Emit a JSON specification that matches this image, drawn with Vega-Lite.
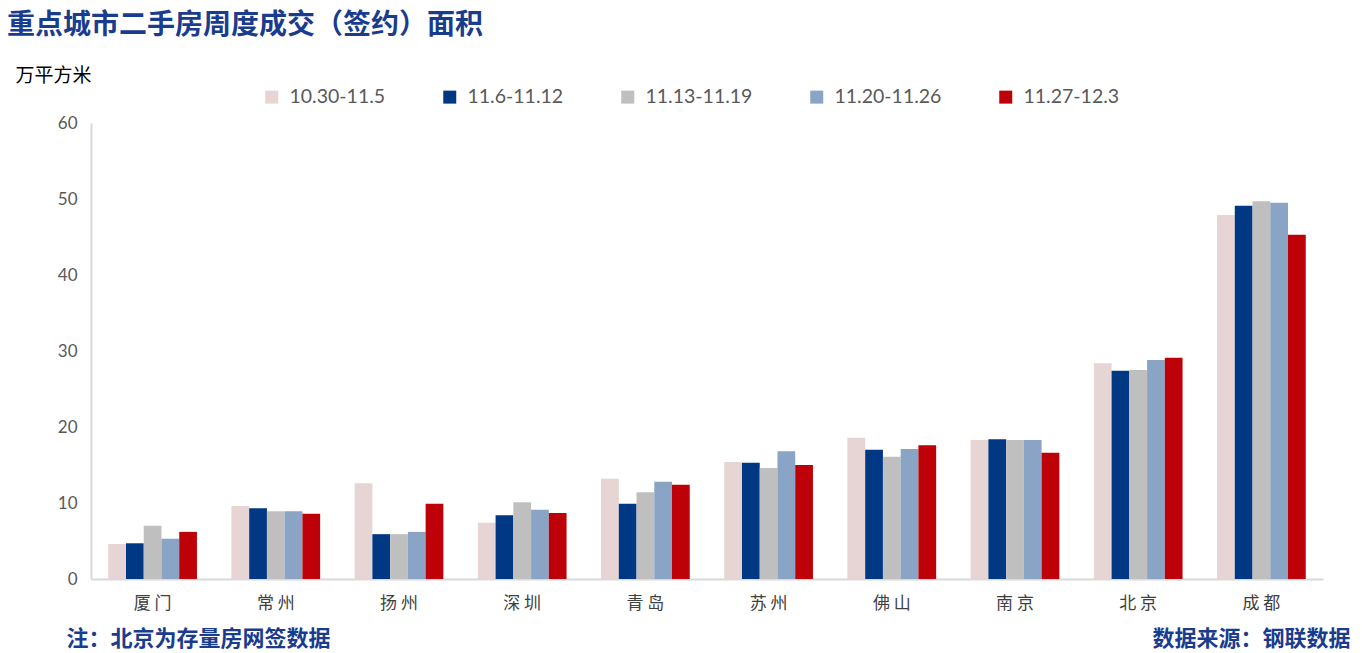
{
  "$schema": "https://vega.github.io/schema/vega-lite/v6.json",
  "width": 1232,
  "height": 456,
  "autosize": "none",
  "padding": {"left": 91, "top": 123, "right": 41, "bottom": 74},
  "background": "white",
  "title": {
    "text": "重点城市二手房周度成交（签约）面积",
    "anchor": "start",
    "frame": "group",
    "font": "Noto Sans CJK SC",
    "fontSize": 28,
    "fontWeight": "bold",
    "color": "#1A3C8C",
    "dx": -84,
    "offset": 0,
    "dy": -26
  },
  "config": {
    "view": {"stroke": null},
    "axis": {"grid": false}
  },
  "data": {
    "values": [
      {"city": "厦门", "week": "10.30-11.5", "value": 4.6},
      {"city": "厦门", "week": "11.6-11.12", "value": 4.7},
      {"city": "厦门", "week": "11.13-11.19", "value": 7.0},
      {"city": "厦门", "week": "11.20-11.26", "value": 5.3},
      {"city": "厦门", "week": "11.27-12.3", "value": 6.2},
      {"city": "常州", "week": "10.30-11.5", "value": 9.6},
      {"city": "常州", "week": "11.6-11.12", "value": 9.3},
      {"city": "常州", "week": "11.13-11.19", "value": 8.9},
      {"city": "常州", "week": "11.20-11.26", "value": 8.9},
      {"city": "常州", "week": "11.27-12.3", "value": 8.6},
      {"city": "扬州", "week": "10.30-11.5", "value": 12.6},
      {"city": "扬州", "week": "11.6-11.12", "value": 5.9},
      {"city": "扬州", "week": "11.13-11.19", "value": 5.9},
      {"city": "扬州", "week": "11.20-11.26", "value": 6.2},
      {"city": "扬州", "week": "11.27-12.3", "value": 9.9},
      {"city": "深圳", "week": "10.30-11.5", "value": 7.4},
      {"city": "深圳", "week": "11.6-11.12", "value": 8.4},
      {"city": "深圳", "week": "11.13-11.19", "value": 10.1},
      {"city": "深圳", "week": "11.20-11.26", "value": 9.1},
      {"city": "深圳", "week": "11.27-12.3", "value": 8.7},
      {"city": "青岛", "week": "10.30-11.5", "value": 13.2},
      {"city": "青岛", "week": "11.6-11.12", "value": 9.9},
      {"city": "青岛", "week": "11.13-11.19", "value": 11.4},
      {"city": "青岛", "week": "11.20-11.26", "value": 12.8},
      {"city": "青岛", "week": "11.27-12.3", "value": 12.4},
      {"city": "苏州", "week": "10.30-11.5", "value": 15.4},
      {"city": "苏州", "week": "11.6-11.12", "value": 15.3},
      {"city": "苏州", "week": "11.13-11.19", "value": 14.6},
      {"city": "苏州", "week": "11.20-11.26", "value": 16.8},
      {"city": "苏州", "week": "11.27-12.3", "value": 15.0},
      {"city": "佛山", "week": "10.30-11.5", "value": 18.6},
      {"city": "佛山", "week": "11.6-11.12", "value": 17.0},
      {"city": "佛山", "week": "11.13-11.19", "value": 16.1},
      {"city": "佛山", "week": "11.20-11.26", "value": 17.1},
      {"city": "佛山", "week": "11.27-12.3", "value": 17.6},
      {"city": "南京", "week": "10.30-11.5", "value": 18.3},
      {"city": "南京", "week": "11.6-11.12", "value": 18.4},
      {"city": "南京", "week": "11.13-11.19", "value": 18.3},
      {"city": "南京", "week": "11.20-11.26", "value": 18.3},
      {"city": "南京", "week": "11.27-12.3", "value": 16.6},
      {"city": "北京", "week": "10.30-11.5", "value": 28.4},
      {"city": "北京", "week": "11.6-11.12", "value": 27.4},
      {"city": "北京", "week": "11.13-11.19", "value": 27.5},
      {"city": "北京", "week": "11.20-11.26", "value": 28.8},
      {"city": "北京", "week": "11.27-12.3", "value": 29.1},
      {"city": "成都", "week": "10.30-11.5", "value": 47.9},
      {"city": "成都", "week": "11.6-11.12", "value": 49.1},
      {"city": "成都", "week": "11.13-11.19", "value": 49.7},
      {"city": "成都", "week": "11.20-11.26", "value": 49.5},
      {"city": "成都", "week": "11.27-12.3", "value": 45.3}
    ]
  },
  "layer": [
    {
      "mark": {"type": "bar"},
      "encoding": {
        "x": {
          "field": "city",
          "type": "nominal",
          "sort": ["厦门", "常州", "扬州", "深圳", "青岛", "苏州", "佛山", "南京", "北京", "成都"],
          "scale": {"paddingInner": 0.28, "paddingOuter": 0.14},
          "axis": {
            "title": "注：北京为存量房网签数据",
            "titleFont": "Noto Sans CJK SC",
            "titleFontSize": 22,
            "titleFontWeight": "bold",
            "titleColor": "#1A3C8C",
            "titleAnchor": "start",
            "titleAlign": "left",
            "titleBaseline": "middle",
            "titleX": -25,
            "titleY": 59,
            "labelAngle": 0,
            "labelFont": "Noto Sans CJK SC",
            "labelFontSize": 17,
            "labelColor": "#404040",
            "labelPadding": 16,
            "labelExpr": "join(split(datum.label, ''), '   ')",
            "ticks": false,
            "domainColor": "#D9D9D9",
            "domainWidth": 2
          }
        },
        "xOffset": {
          "field": "week",
          "type": "nominal",
          "sort": ["10.30-11.5", "11.6-11.12", "11.13-11.19", "11.20-11.26", "11.27-12.3"],
          "scale": {"paddingInner": 0, "paddingOuter": 0}
        },
        "y": {
          "field": "value",
          "type": "quantitative",
          "scale": {"domain": [0, 60]},
          "axis": {
            "values": [0, 10, 20, 30, 40, 50, 60],
            "title": "万平方米",
            "titleFont": "Noto Sans CJK SC",
            "titleFontSize": 19,
            "titleFontWeight": "normal",
            "titleColor": "#000000",
            "titleAngle": 0,
            "titleAlign": "left",
            "titleBaseline": "middle",
            "titleX": -76,
            "titleY": -48,
            "labelFont": "Lato",
            "labelFontSize": 17,
            "labelColor": "#595959",
            "labelPadding": 14,
            "ticks": false,
            "domainColor": "#D9D9D9",
            "domainWidth": 2
          }
        },
        "color": {
          "field": "week",
          "type": "nominal",
          "sort": ["10.30-11.5", "11.6-11.12", "11.13-11.19", "11.20-11.26", "11.27-12.3"],
          "scale": {
            "domain": ["10.30-11.5", "11.6-11.12", "11.13-11.19", "11.20-11.26", "11.27-12.3"],
            "range": ["#E7D4D4", "#003884", "#BFBFBF", "#8AA4C6", "#BE0008"]
          },
          "legend": {
            "title": null,
            "orient": "none",
            "direction": "horizontal",
            "legendX": 171,
            "legendY": -36,
            "symbolType": "square",
            "symbolSize": 169,
            "symbolStrokeWidth": 0,
            "labelFont": "Lato",
            "labelFontSize": 19.5,
            "labelColor": "#595959",
            "labelOffset": 8,
            "columnPadding": 54,
            "labelLimit": 200
          }
        }
      }
    },
    {
      "mark": {"type": "rule", "opacity": 0},
      "encoding": {
        "y": {
          "field": "value",
          "type": "quantitative",
          "scale": {"domain": [0, 60]},
          "axis": {
            "orient": "right",
            "title": "数据来源：钢联数据",
            "titleFont": "Noto Sans CJK SC",
            "titleFontSize": 22,
            "titleFontWeight": "bold",
            "titleColor": "#1A3C8C",
            "titleAngle": 0,
            "titleAlign": "right",
            "titleBaseline": "middle",
            "titleX": 27,
            "titleY": 515,
            "labels": false,
            "ticks": false,
            "domain": false
          }
        }
      }
    }
  ],
  "resolve": {"scale": {"y": "independent"}}
}
